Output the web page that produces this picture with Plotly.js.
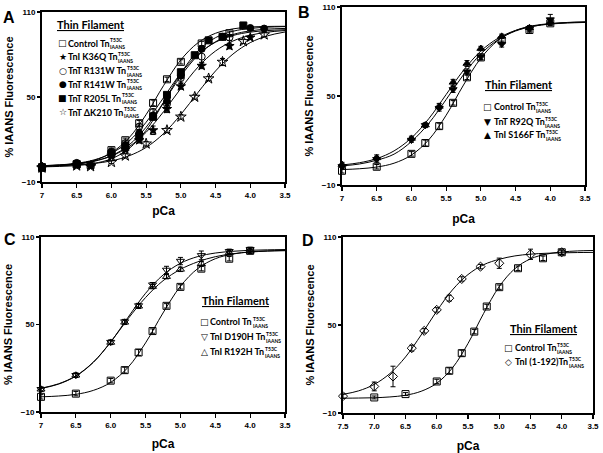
<!DOCTYPE html>
<html>
<head>
<meta charset="utf-8">
<script src="https://cdn.plot.ly/plotly-3.0.1.min.js"></script>
<style>html,body{margin:0;padding:0;background:#fff;}#chart{width:603px;height:453px;}</style>
</head>
<body>
<div id="chart"></div>
<script>
// ---------- shared ----------
const yTickVals = [-10, 50, 110];
const xTickValsABC = [7, 6.5, 6, 5.5, 5, 4.5, 4, 3.5];
const xTickTextABC = ["7", "6.5", "6.0", "5.5", "5.0", "4.5", "4.0", "3.5"];
const xTickValsD = [7.5, 7, 6.5, 6, 5.5, 5, 4.5, 4, 3.5];
const xTickTextD = ["7.5", "7.0", "6.5", "6.0", "5.5", "5.0", "4.5", "4.0", "3.5"];
const fitPca = [7, 6.75, 6.5, 6.25, 6, 5.75, 5.5, 5.25, 5, 4.75, 4.5, 4.25, 4, 3.75, 3.5];
const fitPcaD = [7.5, 7.25, 7, 6.75, 6.5, 6.25, 6, 5.75, 5.5, 5.25, 5, 4.75, 4.5, 4.25, 4, 3.75, 3.5];
const panelLetters = ["A", "B", "C", "D"];
const legendTitle = "Thin Filament";
const supText = "T53C";
const subText = "IAANS";

// ---------- Panel A ----------
const aLabels = ["Control Tn", "TnI K36Q Tn", "TnT R131W Tn", "TnT R141W Tn", "TnT R205L Tn", "TnT \u0394K210 Tn"];
const aControlX = [7, 6.5, 6.3, 6.0, 5.8, 5.6, 5.4, 5.2, 5.0, 4.7, 4.3];
const aControlY = [0.5, 2.5, 2, 12.5, 19.5, 31.5, 45.8, 62.5, 74.8, 87.8, 95];
const aControlErr = [1, 1, 1, 1.5, 1.5, 2, 2, 1.5, 1.5, 1.5, 1.5];
const aK36QX = [7, 6.5, 6.3, 6.0, 5.8, 5.6, 5.4, 5.2, 5.0, 4.7, 4.3, 4.0];
const aK36QY = [0.5, 2, 1.5, 8.5, 13, 19.5, 26.5, 41.5, 57.5, 72, 86, 92];
const aK36QErr = [1, 1, 1, 1.5, 1.5, 2, 3, 2.5, 2, 2, 2, 1.5];
const aR131WX = [7, 6.5, 6.0, 5.8, 5.6, 5.4, 5.2, 5.0, 4.7, 4.3];
const aR131WY = [1, 3, 11.5, 17.5, 29, 39.5, 45, 63.5, 78.5, 92];
const aR131WErr = [1, 1, 1.5, 1.5, 2, 2, 2, 3, 4, 2];
const aR141WX = [7, 6.5, 6.3, 6.0, 5.8, 5.6, 5.4, 5.2, 5.0, 4.7, 4.4, 4.0, 3.8];
const aR141WY = [0.5, 3.5, 2, 10.5, 16, 24.5, 37, 47, 65, 84, 92.5, 98.7, 98.3];
const aR141WErr = [1, 1, 1, 1.5, 1.5, 1.5, 1.5, 1.5, 1.5, 1.5, 1.5, 1.5, 1.5];
const aR205LX = [7, 6.5, 6.0, 5.8, 5.6, 5.4, 5.2, 5.0, 4.8, 4.6, 4.4, 4.1];
const aR205LY = [0, 2.5, 10, 14.5, 22, 36, 51.5, 67.5, 79.5, 90, 92.5, 100.5];
const aR205LErr = [1, 1, 1.5, 1.5, 1.5, 1.5, 1.5, 1.5, 1.5, 1.5, 1.5, 1.5];
const aDK210X = [7, 6.5, 6.3, 6.0, 5.8, 5.5, 5.2, 5.0, 4.8, 4.6, 4.4, 4.1, 3.8];
const aDK210Y = [0, 1.5, 1, 4, 8.5, 17, 26.5, 36, 50, 63, 74.7, 89.3, 94];
const aDK210Err = [1, 1, 1, 1, 1.5, 1.5, 1.5, 1.5, 1.5, 1.5, 2.5, 1.5, 1.5];
const aFitControl = [0.9, 1.4, 2.6, 5.2, 10.7, 21, 37.6, 58, 76.2, 88.4, 95, 98.1, 99.4, 99.8, 99.9];
const aFitK36Q = [1.5, 2, 3, 4.9, 8.4, 14.8, 25.1, 39.6, 56.1, 71.3, 82.5, 89.5, 93.6, 95.8, 96.9];
const aFitR131W = [1.5, 2.1, 3.2, 5.6, 10.3, 18.7, 32.2, 49.5, 66.8, 80.2, 88.7, 93.4, 95.8, 96.9, 97.5];
const aFitR141W = [1.4, 1.8, 2.7, 4.6, 8.5, 16, 28.7, 46.2, 64.8, 79.6, 89, 94.1, 96.7, 97.9, 98.4];
const aFitR205L = [0.7, 1, 1.6, 3.1, 6.4, 13.5, 26.5, 46, 66.8, 82.7, 91.9, 96.4, 98.4, 99.3, 99.7];
const aFitDK210 = [1.3, 1.6, 2.1, 3.1, 4.9, 8.4, 14.4, 24.1, 37.7, 53.4, 68.4, 80.3, 88.4, 93.2, 95.9];

// ---------- Panel B ----------
const bLabels = ["Control Tn", "TnT R92Q Tn", "TnI S166F Tn"];
const bX = [7, 6.5, 6.0, 5.8, 5.6, 5.4, 5.2, 5.0, 4.7, 4.3, 4.0];
const bControlY = [-0.4, 2.3, 11, 18.3, 29.7, 45.4, 62.6, 76, 87.5, 94.5, 99];
const bControlErr = [1.5, 1.5, 1.5, 2, 2, 1.5, 1.5, 1.5, 1.5, 1.5, 1.5];
const bR92QY = [2.5, 7.3, 20.3, 30.2, 41.8, 54.4, 66.3, 76.4, 85, 95.2, 101.5];
const bR92QErr = [1.5, 2, 1.5, 1.5, 2, 2, 2, 2, 2, 1.5, 3.5];
const bS166FY = [3.8, 8.3, 21.4, 30.4, 43, 59.2, 71.9, 82, 90.2, 96, 99.9];
const bS166FErr = [1.5, 2, 1.5, 1.5, 2, 2, 2, 1.5, 1.5, 1.5, 1.5];
const bFitControl = [0.4, 0.95, 2.1, 4.7, 10.2, 20.5, 37, 57.4, 75.5, 87.6, 94.2, 97.4, 98.8, 99.5, 99.8];
const bFitR92Q = [2.85, 4.15, 6.7, 10.8, 19.3, 31.6, 47.6, 64.4, 78.4, 88, 93.8, 97, 98.7, 99.6, 100];
const bFitS166F = [3.5, 5.0, 7.8, 13, 21.7, 34.7, 51, 67.3, 80.3, 89, 94.2, 97, 98.5, 99.2, 99.6];

// ---------- Panel C ----------
const cLabels = ["Control Tn", "TnI D190H Tn", "TnI R192H Tn"];
const cX = [7, 6.5, 6.0, 5.8, 5.6, 5.4, 5.2, 5.0, 4.7, 4.3, 4.0];
const cControlY = [0.4, 2.6, 11.5, 18.7, 30.8, 45.5, 62.8, 75.8, 88.3, 95.1, 100.5];
const cControlErr = [1.5, 1.5, 1.5, 2, 2, 1.5, 1.5, 1.5, 1.5, 1.5, 1.5];
const cD190HY = [5.6, 15.2, 37.9, 52, 63, 77.3, 87.4, 93.5, 97.4, 100.2, 101.5];
const cD190HErr = [1.5, 1.5, 1.5, 1.5, 1.5, 1.5, 2.5, 2.5, 3, 1.5, 1.5];
const cR192HY = [5.6, 15.2, 37.7, 51.5, 62.5, 76, 82.8, 87.8, 91.7, 99.3, 100.2];
const cR192HErr = [1.5, 1.5, 1.5, 1.5, 1.5, 1.5, 1.5, 1.5, 1.5, 1.5, 1.5];
const cFitControl = [0.4, 0.95, 2.1, 4.8, 10.3, 20.7, 37.4, 57.9, 76.2, 88.4, 95.1, 98.3, 99.8, 100.5, 100.8];
const cFitD190H = [6.1, 9.1, 14.6, 24, 38, 55, 71.4, 83.9, 92, 96.6, 99, 100.2, 100.9, 101.2, 101.4];
const cFitR192H = [6.3, 9.3, 14.8, 24.2, 38, 54, 68.5, 80, 87.8, 93, 96.5, 98.5, 99.7, 100.3, 100.6];

// ---------- Panel D ----------
const dLabels = ["Control Tn", "TnI (1-192)Tn"];
const dControlX = [7, 6.5, 6.0, 5.8, 5.6, 5.4, 5.2, 5.0, 4.7, 4.3, 4.0];
const dControlY = [0.6, 2.9, 11.5, 18.8, 30.8, 45.5, 62.6, 75.8, 88.7, 95.5, 99.6];
const dControlErr = [1, 1, 1.5, 2, 2, 1.5, 1.5, 1.5, 1.5, 1.5, 1.5];
const dTnI192X = [7.5, 7.0, 6.7, 6.4, 6.2, 6.0, 5.8, 5.6, 5.3, 5.0, 4.5, 4.0];
const dTnI192Y = [1.5, 8.1, 14.9, 34.2, 46, 60.3, 68.3, 81.4, 89.8, 92.1, 98.2, 99.6];
const dTnI192Err = [1.5, 3, 7, 2, 1.5, 1.5, 2, 1.5, 1.5, 3.5, 3.5, 1.5];
const dFitControl = [0.1, 0.2, 0.4, 0.95, 2.1, 4.8, 10.3, 20.7, 37.4, 57.9, 76.2, 88.4, 95.1, 98.3, 99.8, 100.5, 100.8];
const dFitTnI192 = [2.7, 5.1, 9.5, 16.9, 28.2, 43.2, 59.5, 73.9, 84.4, 91.1, 94.8, 97.1, 98.3, 98.9, 99.2, 99.4, 99.5];

// ---------- build ----------
const W = 603, H = 453;
const px = v => v / W;
const py = v => 1 - v / H;
const traces = [];

function curve(x, y, ax) {
  traces.push({x: x, y: y, xaxis: 'x' + ax, yaxis: 'y' + ax, type: 'scatter', mode: 'lines',
    line: {color: '#000', width: 1, shape: 'spline', smoothing: 1}, showlegend: false, hoverinfo: 'skip'});
}
function pts(x, y, err, ax, sym, size) {
  traces.push({x: x, y: y, xaxis: 'x' + ax, yaxis: 'y' + ax, type: 'scatter', mode: 'markers',
    cliponaxis: false, showlegend: false,
    error_y: {type: 'data', array: err, visible: true, color: '#000', thickness: 1, width: 2.5},
    marker: {symbol: sym, size: size || 7, color: '#000', line: {color: '#000', width: 1}}});
}

// Panel A
curve(fitPca, aFitControl, ''); curve(fitPca, aFitK36Q, ''); curve(fitPca, aFitR131W, '');
curve(fitPca, aFitR141W, ''); curve(fitPca, aFitR205L, ''); curve(fitPca, aFitDK210, '');
pts(aDK210X, aDK210Y, aDK210Err, '', 'star-open', 8);
pts(aK36QX, aK36QY, aK36QErr, '', 'star', 7);
pts(aR205LX, aR205LY, aR205LErr, '', 'square', 7);
pts(aR141WX, aR141WY, aR141WErr, '', 'circle', 7);
pts(aR131WX, aR131WY, aR131WErr, '', 'circle-open', 7);
pts(aControlX, aControlY, aControlErr, '', 'square-open', 7);
// Panel B
curve(fitPca, bFitControl, '2'); curve(fitPca, bFitR92Q, '2'); curve(fitPca, bFitS166F, '2');
pts(bX, bControlY, bControlErr, '2', 'square-open', 7);
pts(bX, bR92QY, bR92QErr, '2', 'triangle-down', 7);
pts(bX, bS166FY, bS166FErr, '2', 'triangle-up', 7);
// Panel C
curve(fitPca, cFitControl, '3'); curve(fitPca, cFitD190H, '3'); curve(fitPca, cFitR192H, '3');
pts(cX, cControlY, cControlErr, '3', 'square-open', 7);
pts(cX, cD190HY, cD190HErr, '3', 'triangle-down-open', 7);
pts(cX, cR192HY, cR192HErr, '3', 'triangle-up-open', 7);
// Panel D
curve(fitPcaD, dFitControl, '4'); curve(fitPcaD, dFitTnI192, '4');
pts(dControlX, dControlY, dControlErr, '4', 'square-open', 7);
pts(dTnI192X, dTnI192Y, dTnI192Err, '4', 'diamond-open', 7);

const tickFont = {family: 'Liberation Sans, Arial, sans-serif', size: 8, color: '#000', weight: 'bold'};
const titleFont = {family: 'Liberation Sans, Arial, sans-serif', size: 11, color: '#000', weight: 'bold'};
function xAxis(dom, anchor, range, tv, tt, so) {
  return {domain: dom, anchor: anchor, range: range, tickvals: tv, ticktext: tt, showgrid: false, zeroline: false,
    showline: true, mirror: true, linecolor: '#000', linewidth: 2, ticks: 'outside', ticklen: 4, tickwidth: 1.2,
    tickcolor: '#000', tickfont: tickFont, fixedrange: true,
    title: {text: 'pCa', font: {family: titleFont.family, size: 12, color: '#000', weight: 'bold'}, standoff: so}};
}
function yAxis(dom, anchor) {
  return {domain: dom, anchor: anchor, range: [-10, 110], tickvals: yTickVals, showgrid: false, zeroline: false,
    showline: true, mirror: true, linecolor: '#000', linewidth: 2, ticks: 'outside', ticklen: 3, tickwidth: 1.2,
    tickcolor: '#000', tickfont: tickFont, fixedrange: true,
    title: {text: '% IAANS Fluorescence', font: titleFont, standoff: 6}};
}

// legend annotations
const annotations = [];
const canvas = document.createElement('canvas');
const ctx = canvas.getContext('2d');
const legFam = 'Lato, "Open Sans", sans-serif';
ctx.font = 'bold 9px Lato';
function legend(titleX, titleY, symX, textX, rowsY, symbols, labels) {
  annotations.push({xref: 'paper', yref: 'paper', x: px(titleX), y: py(titleY), xanchor: 'left', yanchor: 'middle',
    showarrow: false, text: '<u>' + legendTitle + '</u>', font: {family: legFam, size: 11, color: '#000', weight: 'bold'}});
  labels.forEach((lab, i) => {
    annotations.push({xref: 'paper', yref: 'paper', x: px(symX), y: py(rowsY[i]), xanchor: 'center', yanchor: 'middle',
      showarrow: false, text: symbols[i], font: {family: 'DejaVu Sans', size: 9, color: '#000'}});
    annotations.push({xref: 'paper', yref: 'paper', x: px(textX), y: py(rowsY[i]), xanchor: 'left', yanchor: 'middle',
      showarrow: false, text: lab, borderpad: 0, font: {family: legFam, size: 9, color: '#000', weight: 'bold'}});
    const w = ctx.measureText(lab).width;
    annotations.push({xref: 'paper', yref: 'paper', x: px(textX + w + 0.5), y: py(rowsY[i] + 0.5), xanchor: 'left', yanchor: 'middle',
      showarrow: false, text: supText + '<br>' + subText, align: 'left', borderpad: 0,
      font: {family: legFam, size: 5, color: '#000', weight: 'bold'}});
  });
}
legend(55, 25, 62.5, 67, [43.3, 56.7, 70.7, 84, 98.3, 112.3], ['\u25A1', '\u2605', '\u25CB', '\u25CF', '\u25A0', '\u2606'], aLabels);
legend(483, 85, 487.5, 492.5, [106.7, 121.7, 135], ['\u25A1', '\u25BC', '\u25B2'], bLabels);
legend(200, 300, 204, 209.3, [321.7, 336.7, 351.7], ['\u25A1', '\u25BD', '\u25B3'], cLabels);
legend(508, 328.3, 508.5, 514, [347.7, 361.7], ['\u25A1', '\u25C7'], dLabels);

// panel letters
const letterPos = [[9, 18], [304, 12], [10, 239], [307.5, 240]];
panelLetters.forEach((L, i) => {
  annotations.push({xref: 'paper', yref: 'paper', x: px(letterPos[i][0]), y: py(letterPos[i][1]), xanchor: 'center', yanchor: 'middle',
    showarrow: false, text: L, font: {family: 'Liberation Sans, Arial, sans-serif', size: 16, color: '#000', weight: 'bold'}});
});

const layout = {
  width: W, height: H, margin: {l: 0, r: 0, t: 0, b: 0}, paper_bgcolor: '#fff', plot_bgcolor: '#fff',
  showlegend: false,
  xaxis: xAxis([px(42), px(285)], 'y', [7, 3.5], xTickValsABC, xTickTextABC, 8),
  yaxis: yAxis([py(182), py(12)], 'x'),
  xaxis2: xAxis([px(342), px(585)], 'y2', [7, 3.5], xTickValsABC, xTickTextABC, 13),
  yaxis2: yAxis([py(185), py(7)], 'x2'),
  xaxis3: xAxis([px(41), px(285)], 'y3', [7, 3.5], xTickValsABC, xTickTextABC, 11),
  yaxis3: yAxis([py(412), py(237)], 'x3'),
  xaxis4: xAxis([px(343), px(593)], 'y4', [7.5, 3.5], xTickValsD, xTickTextD, 12),
  yaxis4: yAxis([py(413), py(237)], 'x4'),
  annotations: annotations
};
Plotly.newPlot('chart', traces, layout, {displayModeBar: false, staticPlot: true});
</script>
</body>
</html>
